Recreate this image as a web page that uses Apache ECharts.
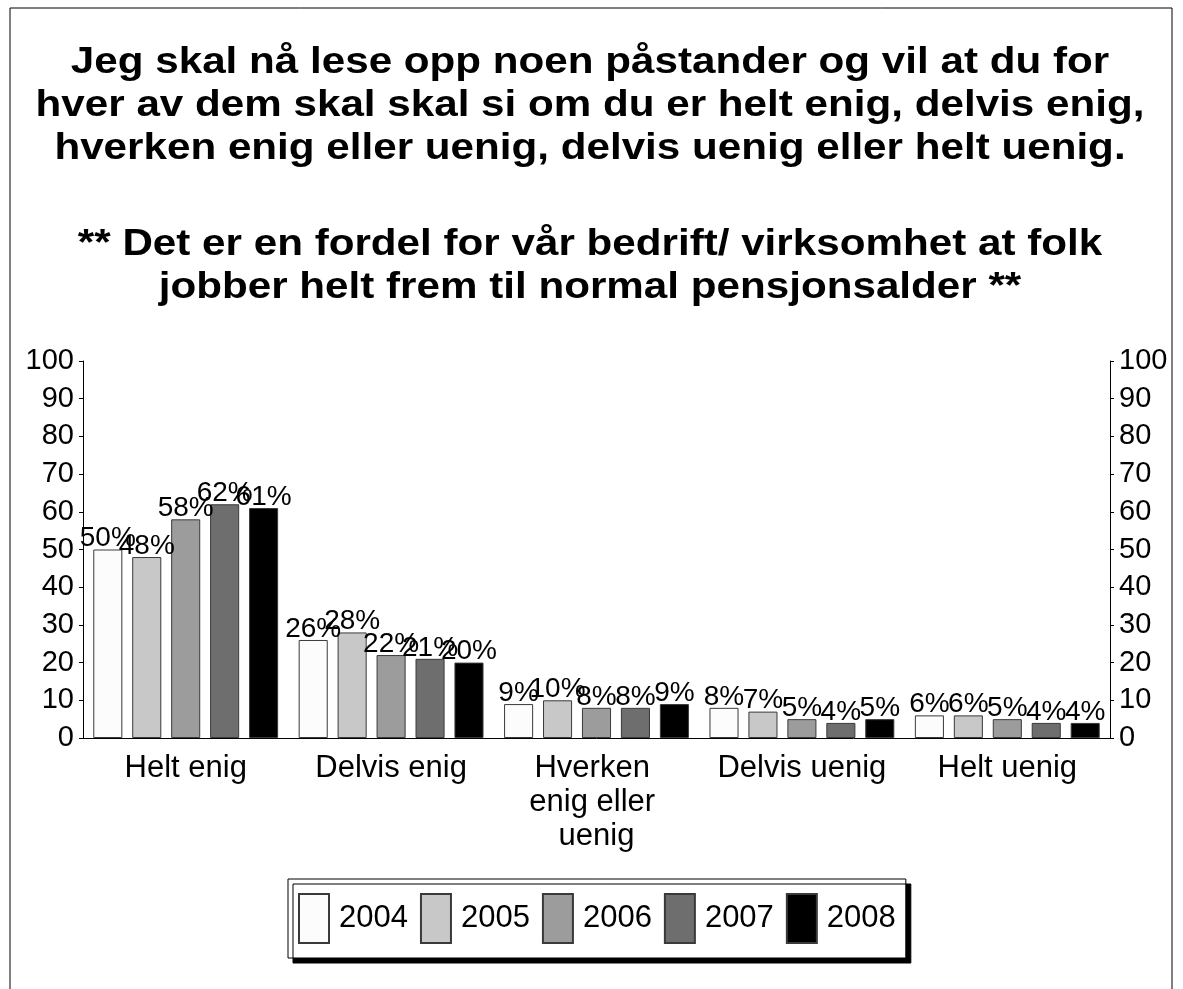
<!DOCTYPE html>
<html>
<head>
<meta charset="utf-8">
<script src="https://cdn.jsdelivr.net/npm/echarts@6/dist/echarts.min.js"></script>
<style>
  html, body { margin: 0; padding: 0; background: #fff; }
  #chart { width: 1183px; height: 989px; }
</style>
</head>
<body>
<div id="chart"></div>
<script>
  var categories = ['Helt enig', 'Delvis enig', 'Hverken enig eller uenig', 'Delvis uenig', 'Helt uenig'];
  var years = ['2004', '2005', '2006', '2007', '2008'];
  var v2004 = [50, 26, 9, 8, 6];
  var v2005 = [48, 28, 10, 7, 6];
  var v2006 = [58, 22, 8, 5, 5];
  var v2007 = [62, 21, 8, 4, 4];
  var v2008 = [61, 20, 9, 5, 4];
  var yTicks = [0, 10, 20, 30, 40, 50, 60, 70, 80, 90, 100];

  var titleLines = [
    'Jeg skal nå lese opp noen påstander og vil at du for',
    'hver av dem skal skal si om du er helt enig, delvis enig,',
    'hverken enig eller uenig, delvis uenig eller helt uenig.'
  ];
  var subLines = [
    '** Det er en fordel for vår bedrift/ virksomhet at folk',
    'jobber helt frem til normal pensjonsalder **'
  ];

  var font = '"Liberation Sans", Arial, sans-serif';
  var titleFont = 'bold 37px "Liberation Sans", Arial, sans-serif';
  var colors = ['#fcfcfc', '#c8c8c8', '#9c9c9c', '#6e6e6e', '#000000'];
  var values = [v2004, v2005, v2006, v2007, v2008];

  var chart = echarts.init(document.getElementById('chart'));

  // hver serie = ett år
  var series = years.map(function (y, i) {
    return {
      name: y,
      type: 'bar',
      data: values[i],
      barGap: '34%',
      barCategoryGap: '10%',
      itemStyle: {
        color: colors[i],
        borderColor: '#3a3a3a',
        borderWidth: 1
      },
      label: {
        show: true,
        position: 'top',
        distance: -3,
        formatter: '{c}%',
        color: '#000',
        fontFamily: font,
        fontSize: 28
      }
    };
  });

  var yAxisBase = {
    type: 'value',
    min: yTicks[0],
    max: yTicks[yTicks.length - 1],
    interval: yTicks[1] - yTicks[0],
    splitLine: { show: false },
    axisLine: { show: true, lineStyle: { color: '#000', width: 1 } },
    axisTick: { show: true, length: 4, lineStyle: { color: '#000' } },
    axisLabel: { color: '#000', fontFamily: font, fontSize: 29, margin: 9 }
  };

  var option = {
    backgroundColor: '#fff',
    animation: false,
    graphic: [
      {
        // ramme rundt hele figuren
        type: 'rect',
        shape: { x: 10, y: 8, width: 1162, height: 1000 },
        style: { fill: 'none', stroke: '#000', lineWidth: 1 },
        silent: true
      },
      {
        type: 'text',
        x: 590,
        y: 41,
        scaleX: 1.14,
        style: {
          text: titleLines.join('\n'),
          font: titleFont,
          textAlign: 'center',
          textVerticalAlign: 'top',
          lineHeight: 43,
          fill: '#000'
        }
      },
      {
        type: 'text',
        x: 590,
        y: 223,
        scaleX: 1.14,
        style: {
          text: subLines.join('\n'),
          font: titleFont,
          textAlign: 'center',
          textVerticalAlign: 'top',
          lineHeight: 43,
          fill: '#000'
        }
      }
    ],
    legend: {
      data: years,
      left: 288,
      top: 879,
      orient: 'horizontal',
      icon: 'rect',
      itemWidth: 30,
      itemHeight: 49,
      itemGap: 12,
      padding: [14, 10],
      backgroundColor: '#fff',
      borderColor: '#000',
      borderWidth: 1,
      shadowColor: '#000',
      shadowBlur: 0,
      shadowOffsetX: 5,
      shadowOffsetY: 5,
      textStyle: { color: '#000', fontFamily: font, fontSize: 31, padding: [0, 0, 0, 5] }
    },
    grid: {
      left: 83,
      right: 73,
      top: 361,
      bottom: 251,
      containLabel: false
    },
    xAxis: {
      type: 'category',
      data: categories,
      axisLine: { show: true, lineStyle: { color: '#000', width: 1 } },
      axisTick: { show: false },
      axisLabel: {
        color: '#000',
        fontFamily: font,
        fontSize: 31,
        lineHeight: 34,
        margin: 13,
        width: 176,
        overflow: 'break',
        interval: 0
      }
    },
    yAxis: [
      Object.assign({}, yAxisBase, { position: 'left' }),
      Object.assign({}, yAxisBase, { position: 'right' })
    ],
    series: series
  };

  chart.setOption(option);
</script>
</body>
</html>
